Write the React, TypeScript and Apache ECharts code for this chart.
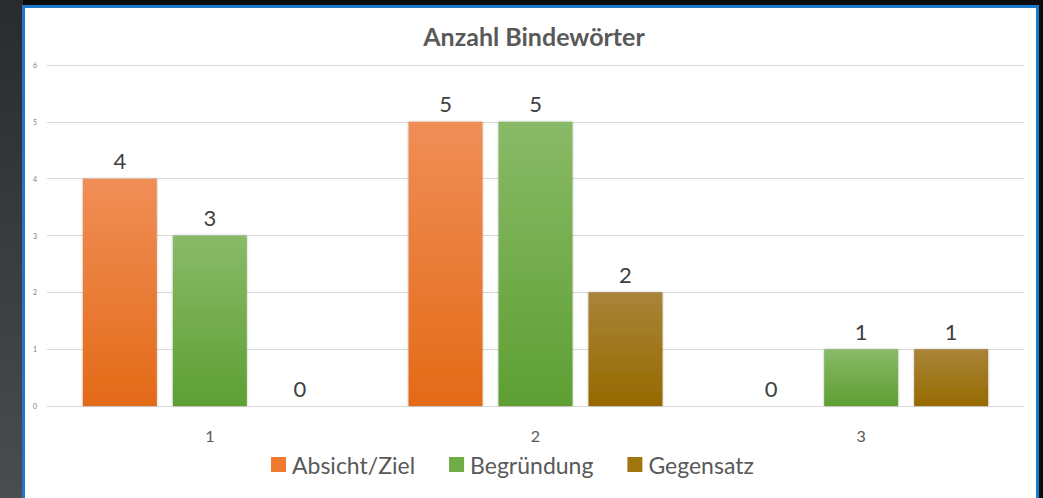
import React, { useEffect, useRef } from "react";
import * as echarts from "echarts";

const categories = ["1", "2", "3"];
const seriesNames = ["Absicht/Ziel", "Begründung", "Gegensatz"];
const absichtZiel = [4, 5, 0];
const begruendung = [3, 5, 1];
const gegensatz = [0, 2, 1];
const yTicks = { min: 0, max: 6, interval: 1 };

const FONT = "Lato, 'Open Sans', 'Liberation Sans', sans-serif";

const grad = (top: string, bottom: string) =>
  new echarts.graphic.LinearGradient(0, 0, 0, 1, [
    { offset: 0, color: top },
    { offset: 1, color: bottom },
  ]);

const colors = [
  { top: "#F08E57", bottom: "#E36A17", solid: "#F07A30" },
  { top: "#89BA67", bottom: "#5E9F33", solid: "#70AD47" },
  { top: "#A98439", bottom: "#966A00", solid: "#A07510" },
];

export default function App() {
  const ref = useRef<HTMLDivElement>(null);
  useEffect(() => {
    if (!ref.current) return;
    const chart = echarts.init(ref.current, undefined, { renderer: "svg" });
    const data = [absichtZiel, begruendung, gegensatz];
    chart.setOption({
      animation: false,
      backgroundColor: "#0b0b0b",
      graphic: [
        {
          type: "rect",
          z: -10,
          shape: { x: 0, y: 0, width: 23, height: 498 },
          style: { fill: grad("#2a2b2e", "#4a4c50") },
          silent: true,
        },
        {
          type: "rect",
          z: -9,
          shape: { x: 23.5, y: 6.5, width: 1014, height: 500 },
          style: { fill: "#ffffff", stroke: "#1E78C8", lineWidth: 3 },
          silent: true,
        },
      ],
      title: {
        text: "Anzahl Bindewörter",
        left: 529,
        textAlign: "center",
        top: 18,
        textStyle: { fontFamily: FONT, fontSize: 25, fontWeight: "bold", color: "#595959" },
      },
      legend: {
        bottom: 17,
        left: 266,
        itemWidth: 15,
        itemHeight: 15,
        itemGap: 34,
        icon: "rect",
        textStyle: { fontFamily: FONT, fontSize: 23, color: "#595959", padding: [0, 0, 0, 1] },
        data: seriesNames.map((n, i) => ({ name: n, itemStyle: { color: colors[i].solid } })),
      },
      grid: { left: 47, right: 19, top: 65, bottom: 92 },
      xAxis: {
        type: "category",
        data: categories,
        axisLine: { lineStyle: { color: "#d9d9d9" } },
        axisTick: { show: false },
        axisLabel: { fontFamily: FONT, fontSize: 16, color: "#595959", margin: 21 },
      },
      yAxis: {
        type: "value",
        min: yTicks.min,
        max: yTicks.max,
        interval: yTicks.interval,
        axisLine: { show: false },
        axisTick: { show: false },
        axisLabel: { fontFamily: FONT, fontSize: 7, color: "#7f7f7f", margin: 10 },
        splitLine: { lineStyle: { color: "#d9d9d9", width: 1 } },
      },
      series: data.map((d, i) => ({
        name: seriesNames[i],
        type: "bar",
        data: d,
        barWidth: 74,
        barGap: "21.6%",
        itemStyle: {
          color: grad(colors[i].top, colors[i].bottom),
          shadowBlur: 2,
          shadowColor: "rgba(0,0,0,0.3)",
        },
        label: {
          show: true,
          position: "top",
          distance: 7,
          fontFamily: FONT,
          fontSize: 22,
          color: "#404040",
        },
      })),
    });
    return () => chart.dispose();
  }, []);
  return (
    <div
      ref={ref}
      style={{ position: "fixed", left: 0, top: 0, width: 1043, height: 498 }}
    />
  );
}
